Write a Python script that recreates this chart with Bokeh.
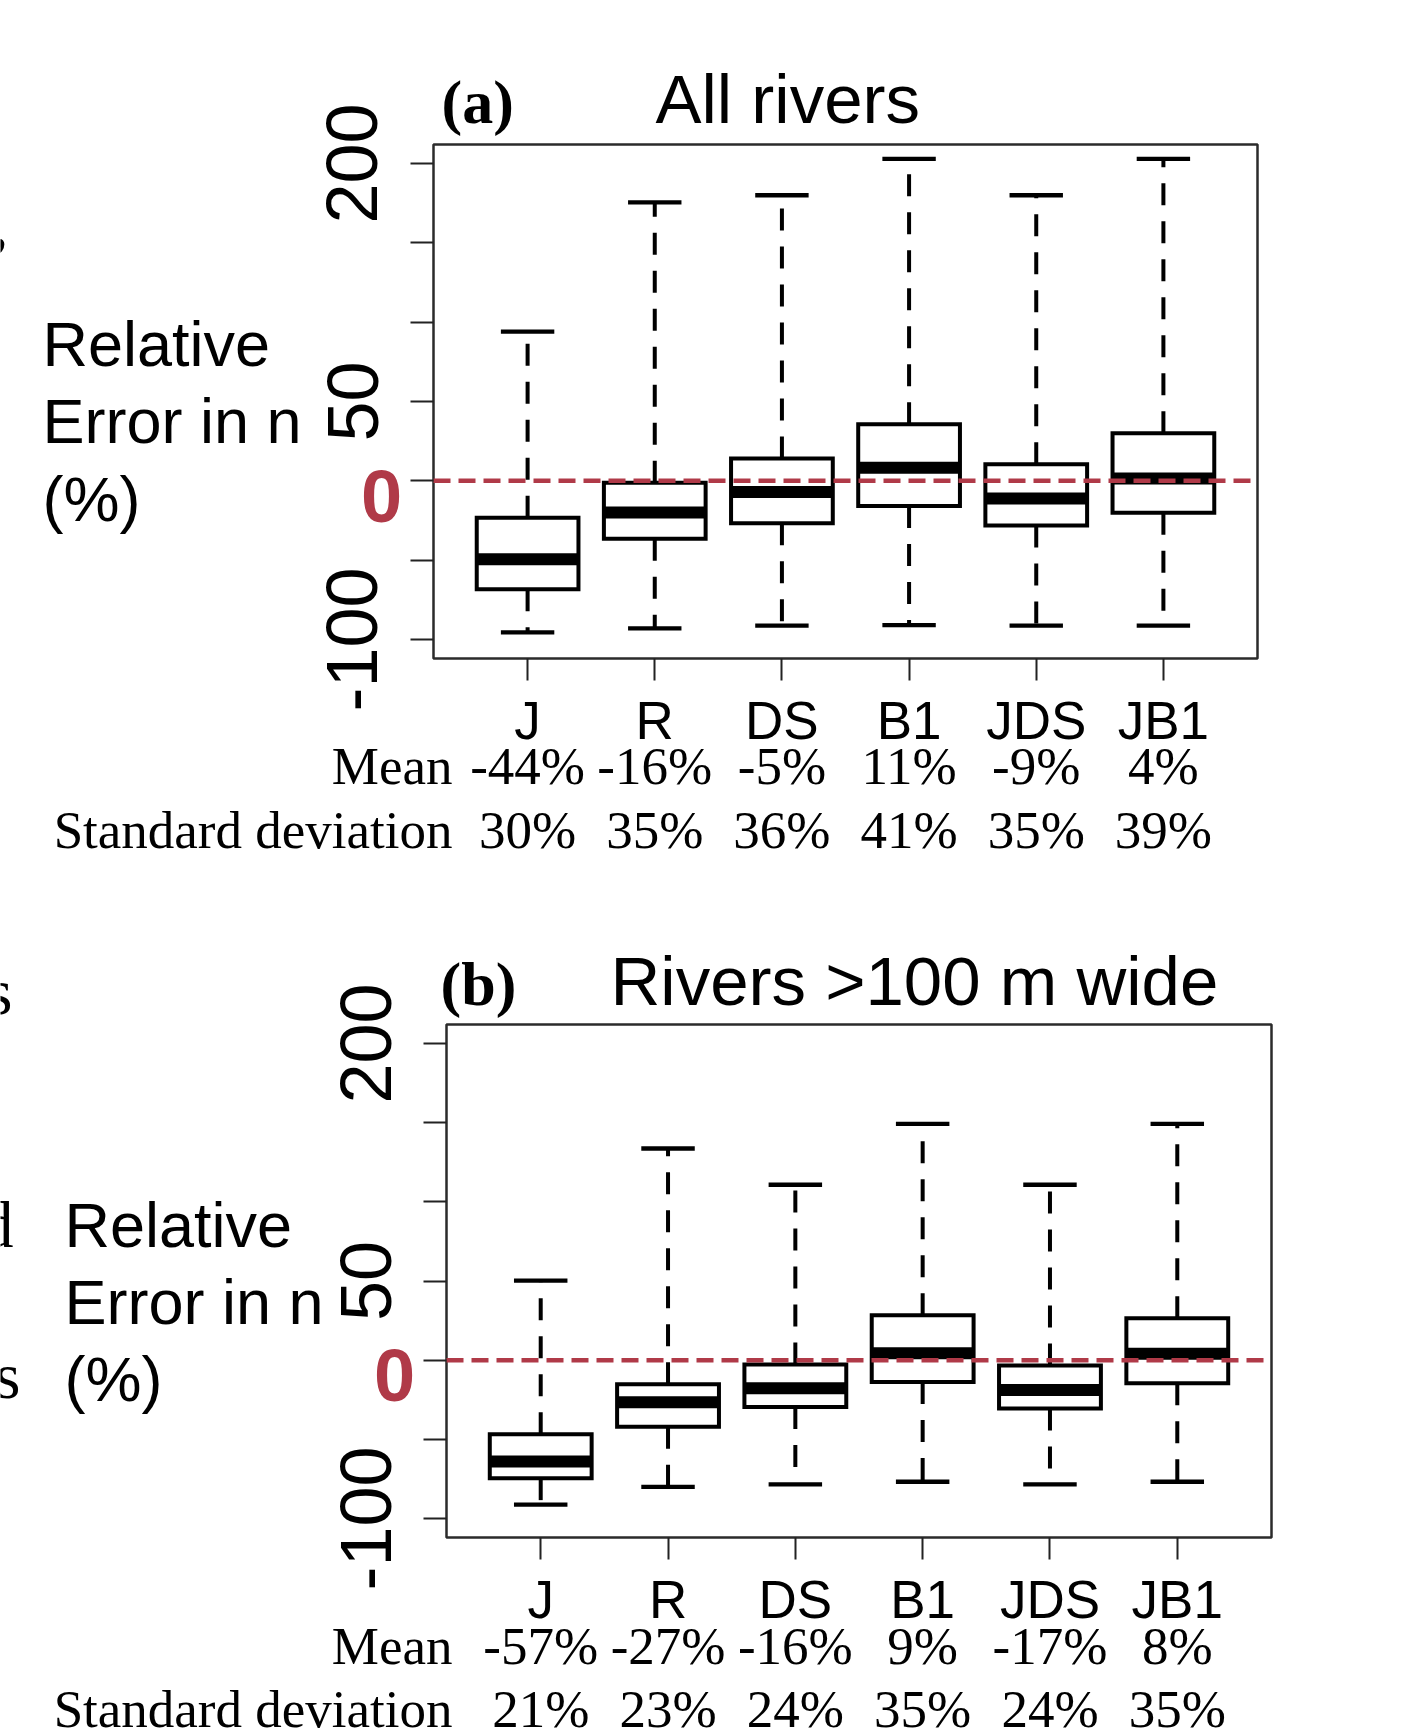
from bokeh.plotting import figure
from bokeh.models import Range1d, FixedTicker, LinearAxis, LabelSet, ColumnDataSource
from bokeh.layouts import column
from bokeh.core.properties import value
from bokeh.embed import file_html
from bokeh.resources import INLINE

categories = ["J", "R", "DS", "B1", "JDS", "JB1"]
y_ticks = [-100, -50, 0, 50, 100, 150, 200]
y_tick_labels = {-100: "-100", -50: "", 0: "", 50: "50", 100: "", 150: "", 200: "200"}
y_limits = [-100, 200]          # R ylim, expanded by 4 % like R does
ref_value = 0                   # dashed reference line

# Panel (a): All rivers
a_lower = [-95.5, -93, -91.3, -91, -91.3, -91.3]
a_q1 = [-68.3, -36.5, -26.7, -15.8, -28.2, -20.1]
a_median = [-49.5, -20, -7.1, 8.3, -11.2, 1.4]
a_q3 = [-23.2, -1.2, 14, 35.6, 10.4, 30]
a_upper = [94, 175.5, 180, 203, 180, 203]
a_mean = [-44, -16, -5, 11, -9, 4]
a_sd = [30, 35, 36, 41, 35, 39]

# Panel (b): Rivers >100 m wide
b_lower = [-91.3, -80, -78.5, -76.8, -78.5, -76.8]
b_q1 = [-74.5, -42, -29.5, -13.8, -30.5, -14.6]
b_median = [-64, -26.6, -17.8, 4.3, -18.9, 4.1]
b_q3 = [-46.8, -15.2, -2.7, 28.3, -3.4, 26.5]
b_upper = [50.2, 133.7, 110.8, 149.2, 110.8, 149.2]
b_mean = [-57, -27, -16, 9, -17, 8]
b_sd = [21, 23, 24, 35, 24, 35]

RED = "#b03a48"
SANS = "Liberation Sans"
SERIF = "Liberation Serif"
W = 1414


def make_panel(H, frame, tag, title, lower, q1, med, q3, upper, mean, sd, texts, frags):
    L, R, T, B = frame  # plotting-box edges in page pixels of this figure
    n = len(categories)
    xpos = list(range(1, n + 1))
    pad = 0.04 * n
    x_lim = (0.5 - pad, n + 0.5 + pad)
    ypad = 0.04 * (y_limits[1] - y_limits[0])
    y_lim = (y_limits[0] - ypad, y_limits[1] + ypad)
    kx = (R - L) / (x_lim[1] - x_lim[0])
    ky = (B - T) / (y_lim[1] - y_lim[0])
    xr = Range1d(x_lim[0] - L / kx, x_lim[1] + (W - R) / kx)
    yr = Range1d(y_lim[0] - (H - B) / ky, y_lim[1] + T / ky)

    p = figure(width=W, height=H, x_range=xr, y_range=yr,
               x_axis_location=None, y_axis_location=None,
               output_backend="svg", toolbar_location=None)
    p.min_border = 0
    p.min_border_left = 0
    p.min_border_right = 0
    p.min_border_top = 0
    p.min_border_bottom = 0
    p.title.visible = False
    p.xgrid.visible = False
    p.ygrid.visible = False
    p.outline_line_color = None
    p.background_fill_color = "white"
    p.border_fill_color = "white"

    # plotting box
    p.quad(left=[x_lim[0]], right=[x_lim[1]], bottom=[y_lim[0]], top=[y_lim[1]],
           fill_color=None, line_color="#2b2b2b", line_width=2.5)

    src = ColumnDataSource(dict(x=xpos, lower=lower, q1=q1, med=med, q3=q3, upper=upper))
    p.segment(x0="x", y0="q3", x1="x", y1="upper", source=src,
              line_color="black", line_width=4, line_dash="22 16")
    p.segment(x0="x", y0="q1", x1="x", y1="lower", source=src,
              line_color="black", line_width=4, line_dash="22 16")
    p.vbar(x="x", width=0.8, bottom="q1", top="q3", source=src,
           fill_color="white", line_color="black", line_width=4, line_join="miter")
    p.rect(x="x", y="med", width=0.8, height=12, height_units="screen", source=src,
           fill_color="black", line_color=None)
    p.rect(x="x", y="upper", width=0.42, height=4.3, height_units="screen", source=src,
           fill_color="black", line_color=None)
    p.rect(x="x", y="lower", width=0.42, height=4.3, height_units="screen", source=src,
           fill_color="black", line_color=None)

    # red dashed reference line across the box
    p.segment(x0=[x_lim[0]], x1=[x_lim[1]], y0=[ref_value], y1=[ref_value],
              line_color=RED, line_width=4.5, line_dash="17 8")

    # axes drawn at the edges of the plotting box
    xa = LinearAxis(fixed_location=y_lim[0], ticker=FixedTicker(ticks=xpos),
                    major_label_overrides={i: c for i, c in zip(xpos, categories)})
    xa.axis_line_color = None
    xa.major_tick_in = 0
    xa.major_tick_out = 22
    xa.minor_tick_in = 0
    xa.minor_tick_out = 0
    xa.major_tick_line_width = 2
    xa.major_tick_line_color = "#222222"
    xa.major_label_text_font = SANS
    xa.major_label_text_font_size = "53px"
    xa.major_label_text_color = "black"
    xa.major_label_standoff = 10
    p.add_layout(xa, "below")

    ya = LinearAxis(fixed_location=x_lim[0], ticker=FixedTicker(ticks=y_ticks),
                    major_label_overrides=y_tick_labels)
    ya.axis_line_color = None
    ya.major_tick_in = 0
    ya.major_tick_out = 23
    ya.minor_tick_in = 0
    ya.minor_tick_out = 0
    ya.major_tick_line_width = 2
    ya.major_tick_line_color = "#222222"
    ya.major_label_orientation = "vertical"
    ya.major_label_text_font = SANS
    ya.major_label_text_font_size = "72px"
    ya.major_label_text_color = "black"
    ya.major_label_standoff = 33
    p.add_layout(ya, "left")

    def lab(txt, x, y, align="left", font=SANS, size="62px", style="normal", color="black"):
        s = ColumnDataSource(dict(x=[x], y=[H - y], t=[txt]))
        p.add_layout(LabelSet(x="x", y="y", x_units="screen", y_units="screen", text="t",
                              source=s, text_align=align, text_baseline="alphabetic",
                              text_font=value(font), text_font_style=value(style),
                              text_font_size=value(size), text_color=color))

    tx = texts
    lab("0", tx["zero"][0], tx["zero"][1], align="center", style="bold", size="74px", color=RED)
    lab(tag, tx["tag"][0], tx["tag"][1], font=SERIF, style="bold", size="62px")
    lab(title, tx["title"][0], tx["title"][1], size="69px")
    for txt, yy in zip(["Relative", "Error in n", "(%)"], tx["ylab_y"]):
        lab(txt, tx["ylab_x"], yy, size="63px")
    lab("Mean", tx["row_x"], tx["mean_y"], align="right", font=SERIF, size="53px")
    lab("Standard deviation", tx["row_x"], tx["sd_y"], align="right", font=SERIF, size="53px")

    tsrc = ColumnDataSource(dict(x=xpos, mtext=[f"{v}%" for v in mean],
                                 stext=[f"{v}%" for v in sd]))
    for col, yy in [("mtext", tx["mean_y"]), ("stext", tx["sd_y"])]:
        p.add_layout(LabelSet(x="x", y=H - yy, y_units="screen", text=col, source=tsrc,
                              text_align="center", text_baseline="alphabetic",
                              text_font=value(SERIF), text_font_size=value("53px"),
                              text_color="black"))

    for txt, xx, yy in frags:
        lab(txt, xx, yy, align="right", font=SERIF, size="66px")
    return p


pa = make_panel(880, (433, 1257, 144, 658), "(a)", "All rivers",
                a_lower, a_q1, a_median, a_q3, a_upper, a_mean, a_sd,
                texts=dict(zero=(381, 521), tag=(441, 122), title=(655, 122),
                           ylab_x=42, ylab_y=[365, 442, 520],
                           row_x=452, mean_y=783, sd_y=847),
                frags=[(",", 8, 245)])
pb = make_panel(856, (446, 1271, 144, 657), "(b)", "Rivers >100 m wide",
                b_lower, b_q1, b_median, b_q3, b_upper, b_mean, b_sd,
                texts=dict(zero=(394, 520), tag=(440, 124), title=(610, 124),
                           ylab_x=64, ylab_y=[366, 443, 520],
                           row_x=452, mean_y=783, sd_y=846),
                frags=[("s", 12, 133), ("d", 13, 366), ("s", 20, 517)])

layout = column(pa, pb, spacing=0)
open("out.html", "w").write(file_html(layout, INLINE))
